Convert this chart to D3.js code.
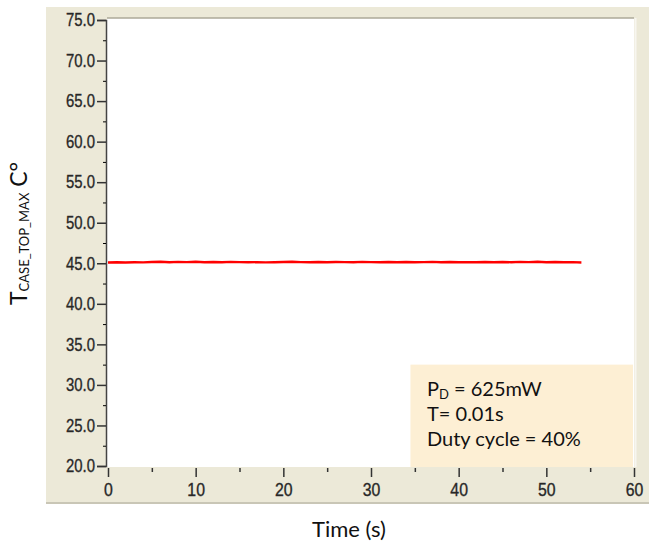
<!DOCTYPE html>
<html>
    <head>
        <script src="https://d3js.org/d3.v7.min.js"></script>
        <style>
            body { margin: 0; background: #ffffff; }
            .lbl { font-family: Lato, "Open Sans", sans-serif; fill: #111; }
        </style>
    </head>
    <body>
        <svg width="649" height="544" id="chart"></svg>
        <script>
            // data
            let times=[0,1,2,3,4,5,6,7,8,9,10,11,12,13,14,15,16,17,18,19,20,21,22,23,24,25,26,27,28,29,30,
                       31,32,33,34,35,36,37,38,39,40,41,42,43,44,45,46,47,48,49,50,51,52,53,54];
            let temps=[45.10,45.12,45.10,45.13,45.11,45.15,45.18,45.12,45.17,45.14,45.18,45.13,45.16,45.12,45.17,45.14,
                       45.12,45.14,45.11,45.13,45.15,45.18,45.14,45.12,45.15,45.13,45.16,45.14,45.13,45.17,45.14,45.12,
                       45.15,45.13,45.16,45.12,45.14,45.17,45.13,45.15,45.12,45.14,45.13,45.16,45.12,45.15,45.13,45.17,
                       45.14,45.18,45.13,45.15,45.12,45.14,45.10];
            let yTicks=[20,25,30,35,40,45,50,55,60,65,70,75];
            let yMinor=[22.5,27.5,32.5,37.5,42.5,47.5,52.5,57.5,62.5,67.5,72.5];
            let xTicks=[0,10,20,30,40,50,60];
            let xMinor=[5,15,25,35,45,55];
            let noteLines=["= 625mW","T= 0.01s","Duty cycle = 40%"];

            let svg=d3.select("#chart");

            let xScale=d3.scaleLinear().domain([0,60]).range([108,634]);
            let yScale=d3.scaleLinear().domain([20,75]).range([466,20]);

            // grey panel
            svg.append("rect").attr("x",46).attr("y",7).attr("width",603).attr("height",496)
                .attr("fill","#ece9d8");
            svg.append("line").attr("x1",46).attr("x2",649).attr("y1",503).attr("y2",503)
                .attr("stroke","#c9c6b6").attr("stroke-width",2);

            // plot area
            svg.append("rect").attr("x",107).attr("y",18).attr("width",527).attr("height",449)
                .attr("fill","#ffffff");
            svg.append("line").attr("x1",107).attr("x2",634).attr("y1",18).attr("y2",18)
                .attr("stroke","#aca899").attr("stroke-width",1.5);
            svg.append("line").attr("x1",635.5).attr("x2",635.5).attr("y1",18).attr("y2",467)
                .attr("stroke","#f7f6ef").attr("stroke-width",2);

            // note box
            let nb=svg.append("g");
            nb.append("rect").attr("x",xScale(34.5)).attr("y",yScale(32.5))
                .attr("width",xScale(60)-xScale(34.5)-1).attr("height",yScale(20)-yScale(32.5)+1)
                .attr("fill","#fdefd4");
            let nt=nb.append("text").attr("class","lbl").attr("x",427).attr("y",396).attr("font-size",20);
            nt.append("tspan").text("P");
            nt.append("tspan").attr("font-size",13).attr("dy",3).text("D");
            nt.append("tspan").attr("dy",-3).text(" "+noteLines[0]);
            nb.selectAll("text.more").data(noteLines.slice(1)).join("text")
                .attr("class","lbl more").attr("x",427).attr("y",(d,i)=>421+i*25)
                .attr("font-size",20).text(d=>d);

            // series
            let line=d3.line().x((d,i)=>xScale(times[i])).y(d=>yScale(d));
            svg.append("path").datum(temps).attr("d",line)
                .attr("fill","none").attr("stroke","#ff0000").attr("stroke-width",2.4);

            // axes
            let tickFont=sel=>sel.style("font-family","'Liberation Sans', Arimo, sans-serif")
                .style("font-size","18px").style("fill","#252525")
                .style("stroke","#303030").style("stroke-width","0.35px");

            let yAxis=svg.append("g").attr("transform","translate(106,0)")
                .call(d3.axisLeft(yScale).tickValues(yTicks).tickFormat(d3.format(".1f")).tickSize(9).tickPadding(2));
            svg.append("g").attr("transform","translate(106,0)")
                .call(d3.axisLeft(yScale).tickValues(yMinor).tickFormat("").tickSize(3))
                .select(".domain").remove();
            yAxis.select(".domain").attr("stroke","#444").attr("stroke-width",1.5);
            yAxis.selectAll(".tick line").attr("stroke","#333").attr("stroke-width",1.5);
            yAxis.selectAll(".tick text").call(tickFont)
                .attr("textLength",29).attr("lengthAdjust","spacingAndGlyphs");

            let xAxis=svg.append("g").attr("transform","translate(0,468)")
                .call(d3.axisBottom(xScale).tickValues(xTicks).tickSize(9).tickPadding(6));
            xAxis.select(".domain").remove();
            xAxis.selectAll(".tick line").attr("stroke","#333").attr("stroke-width",1.5);
            xAxis.selectAll(".tick text").call(tickFont)
                .attr("textLength",d=>String(d).length*8.8).attr("lengthAdjust","spacingAndGlyphs");
            svg.append("g").attr("transform","translate(0,468)")
                .call(d3.axisBottom(xScale).tickValues(xMinor).tickFormat("").tickSize(4))
                .call(g=>g.select(".domain").remove())
                .selectAll(".tick line").attr("stroke","#333").attr("stroke-width",1.5);

            // titles
            svg.append("text").attr("class","lbl").attr("x",349).attr("y",537)
                .attr("text-anchor","middle").attr("font-size",22).text("Time (s)");
            let yt=svg.append("text").attr("class","lbl")
                .attr("transform","translate(27,305) rotate(-90)").attr("font-size",23);
            yt.append("tspan").text("T");
            yt.append("tspan").attr("font-size",13).attr("dy",2).text("CASE_TOP_MAX");
            yt.append("tspan").attr("dy",-2).text(" C°");
        </script>
    </body>
</html>
